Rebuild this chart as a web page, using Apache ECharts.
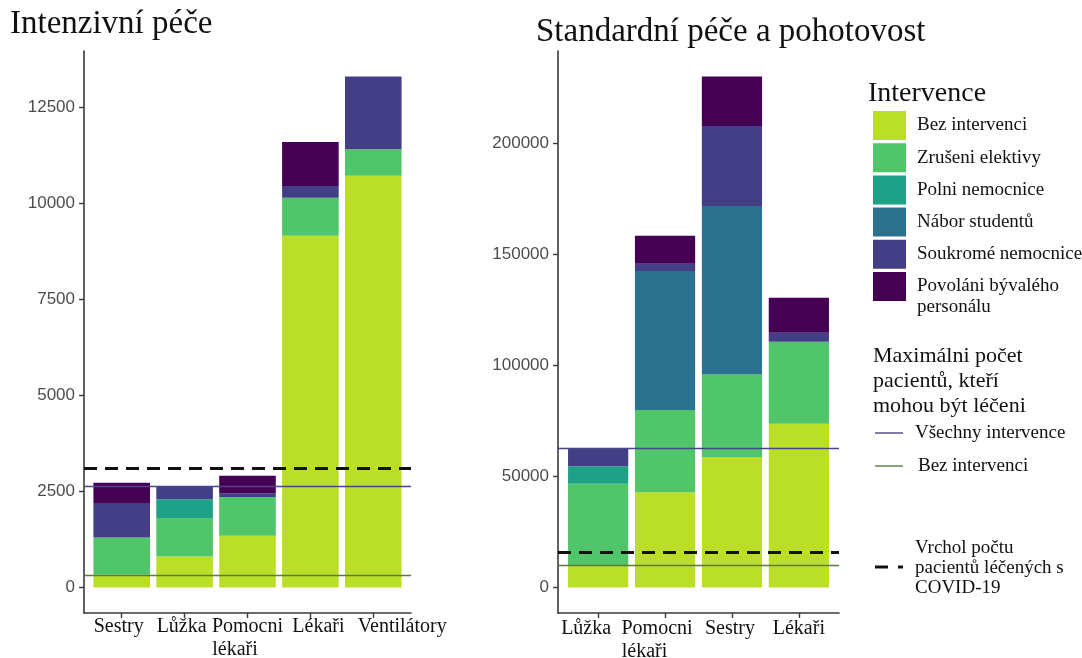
<!DOCTYPE html>
<html>
<head>
<meta charset="utf-8">
<script src="https://cdn.jsdelivr.net/npm/echarts@6/dist/echarts.min.js"></script>
<style>
  html, body { margin: 0; padding: 0; background: #ffffff; }
  #chart { width: 1082px; height: 658px; }
</style>
</head>
<body>
<div id="chart"></div>
<script>
// Intervention layers, stacked bottom to top
const interventions = [
  'Bez intervenci',
  'Zrušeni elektivy',
  'Polni nemocnice',
  'Nábor studentů',
  'Soukromé nemocnice',
  'Povoláni bývalého\npersonálu'
];
const interventionColors = ['#BBDF27', '#51C56A', '#1FA187', '#2C728E', '#433E85', '#440154'];

// Intenzivní péče
const icuCategories = ['Sestry', 'Lůžka', 'Pomocni\nlékaři', 'Lékaři', 'Ventilátory'];
const icuBez       = [330, 807, 1346, 9150, 10710];
const icuZruseni   = [972, 998, 1006, 990, 690];
const icuPolni     = [0, 487, 0, 0, 0];
const icuNabor     = [0, 0, 0, 0, 0];
const icuSoukrome  = [893, 346, 96, 300, 1890];
const icuPovolani  = [531, 0, 460, 1150, 0];
const icuCapacityAll  = 2638;
const icuCapacityNone = 330;
const icuPeak         = 3100;
const icuTicks = [0, 2500, 5000, 7500, 10000, 12500];

// Standardní péče a pohotovost
const stdCategories = ['Lůžka', 'Pomocni\nlékaři', 'Sestry', 'Lékaři'];
const stdBez       = [9900, 42800, 58700, 73700];
const stdZruseni   = [36800, 37070, 37100, 36800];
const stdPolni     = [7800, 0, 0, 0];
const stdNabor     = [0, 62480, 75800, 0];
const stdSoukrome  = [7970, 3290, 36050, 4050];
const stdPovolani  = [0, 12600, 22220, 15770];
const stdCapacityAll  = 62470;
const stdCapacityNone = 9900;
const stdPeak         = 15800;
const stdTicks = [0, 50000, 100000, 150000, 200000];

// Second legend texts
const capacityTitle = 'Maximálni počet\npacientů, kteří\nmohou být léčeni';
const capacityAllLabel = 'Všechny intervence';
const capacityNoneLabel = 'Bez intervenci';
const peakLabel = 'Vrchol počtu\npacientů léčených s\nCOVID-19';

const SERIF = '"Liberation Serif", "Times New Roman", serif';
const SANS = '"Liberation Sans", Arial, sans-serif';
const AXIS_COLOR = '#3a3a3a';
const LINE_ALL = '#48468a';
const LINE_NONE = '#5d7a3a';
const LABEL_FONT = 20;

const panels = [
  {
    title: 'Intenzivní péče', titleLeft: 10, titleTop: 8,
    categories: icuCategories,
    labelShift: [-3, -3, 0, 8, 29],   // horizontal nudge of each category label, px
    labelMargin: 2,
    layers: [icuBez, icuZruseni, icuPolni, icuNabor, icuSoukrome, icuPovolani],
    capAll: icuCapacityAll, capNone: icuCapacityNone, peak: icuPeak, ticks: icuTicks,
    grid: { left: 84, top: 51, width: 327, height: 562 }
  },
  {
    title: 'Standardní péče a pohotovost', titleLeft: 536, titleTop: 16,
    categories: stdCategories,
    labelShift: [-12, -8, -2, 0],
    labelMargin: 4,
    layers: [stdBez, stdZruseni, stdPolni, stdNabor, stdSoukrome, stdPovolani],
    capAll: stdCapacityAll, capNone: stdCapacityNone, peak: stdPeak, ticks: stdTicks,
    grid: { left: 558, top: 51, width: 281, height: 562 }
  }
];

// text width helper, used to left-align the lines of two-line category names
const measureCtx = document.createElement('canvas').getContext('2d');
measureCtx.font = LABEL_FONT + 'px ' + SERIF;
const textWidth = s => measureCtx.measureText(s).width;
const padLine = (line, target) => {
  let out = line;
  while (textWidth(out + '\u00a0') <= target + 1) out += '\u00a0';
  return out;
};
const formatCategory = name => {
  const lines = name.split('\n');
  const w = Math.max(...lines.map(textWidth));
  return lines.map(l => '{c|' + padLine(l, w) + '}').join('\n');
};

const option = {
  animation: false,
  backgroundColor: '#ffffff',
  title: [],
  grid: [],
  xAxis: [],
  yAxis: [],
  series: [],
  graphic: []
};

panels.forEach((p, pi) => {
  const n = p.categories.length;
  const totals = p.categories.map((_, i) => p.layers.reduce((s, l) => s + l[i], 0));
  const top = Math.max(...totals);
  const slot = p.grid.width / (n + 0.2);

  option.title.push({
    text: p.title, left: p.titleLeft, top: p.titleTop, padding: 0,
    textStyle: { fontFamily: SERIF, fontSize: 33, fontWeight: 'normal', color: '#111' }
  });
  option.grid.push(Object.assign({ containLabel: false, outerBoundsMode: 'none' }, p.grid));

  const ticks = p.categories.map((_, i) => i + 1);
  // label anchors: tick position plus the pixel nudge expressed in axis units
  const labelAt = ticks.map((t, i) => t + p.labelShift[i] / slot);
  option.xAxis.push({
    type: 'value', gridIndex: pi, min: 0.4, max: n + 0.6,
    splitLine: { show: false },
    axisLine: { show: true, onZero: false, lineStyle: { color: AXIS_COLOR, width: 1.6 } },
    axisTick: { show: true, length: 5, customValues: ticks, lineStyle: { color: AXIS_COLOR, width: 1.4 } },
    axisLabel: {
      customValues: labelAt, margin: p.labelMargin, hideOverlap: false,
      fontFamily: SERIF, fontSize: LABEL_FONT, color: '#111', lineHeight: 23,
      formatter: v => {
        const c = p.categories[Math.round(v) - 1];
        return c === undefined ? '' : formatCategory(c);
      },
      rich: {
        c: { fontFamily: SERIF, fontSize: LABEL_FONT, color: '#111', lineHeight: 23, width: 4, align: 'center' }
      }
    }
  });
  option.yAxis.push({
    type: 'value', gridIndex: pi, min: -0.05 * top, max: 1.05 * top,
    splitLine: { show: false },
    axisLine: { show: true, onZero: false, lineStyle: { color: AXIS_COLOR, width: 1.6 } },
    axisTick: { show: true, length: 5, customValues: p.ticks, lineStyle: { color: AXIS_COLOR, width: 1.4 } },
    axisLabel: {
      customValues: p.ticks, margin: 9,
      fontFamily: SANS, fontSize: 17, color: '#4d4d4d',
      formatter: v => String(v)
    }
  });

  p.layers.forEach((layer, li) => {
    const s = {
      type: 'bar',
      name: interventions[li],
      xAxisIndex: pi, yAxisIndex: pi,
      stack: 'panel' + pi,
      barWidth: slot * 0.9,
      encode: { x: 1, y: 0 },
      itemStyle: { color: interventionColors[li] },
      data: layer.map((v, i) => [v, i + 1])
    };
    if (li === p.layers.length - 1) {
      s.markLine = {
        silent: true,
        symbol: ['none', 'none'],
        label: { show: false },
        data: [
          { yAxis: p.capAll, lineStyle: { color: LINE_ALL, width: 1.4, type: 'solid' } },
          { yAxis: p.capNone, lineStyle: { color: LINE_NONE, width: 1.4, type: 'solid' } },
          { yAxis: p.peak, lineStyle: { color: '#111', width: 3, type: [13, 8] } }
        ]
      };
    }
    option.series.push(s);
  });
});

// Legend: interventions
option.graphic.push({
  type: 'text', left: 868, top: 80,
  style: { text: 'Intervence', fontFamily: SERIF, fontSize: 28, fill: '#111' }
});
interventions.forEach((name, i) => {
  const y0 = 111 + i * 32.2;
  option.graphic.push({
    type: 'rect', shape: { x: 873, y: y0, width: 33, height: 29 },
    style: { fill: interventionColors[i] }
  });
  option.graphic.push({
    type: 'text', x: 917, y: y0 + 14.5 - 10.5,
    style: { text: name, fontFamily: SERIF, fontSize: 19, lineHeight: 21, fill: '#111', verticalAlign: 'top' }
  });
});

// Legend: capacity lines and peak
option.graphic.push({
  type: 'text', x: 873, y: 344,
  style: { text: capacityTitle, fontFamily: SERIF, fontSize: 22, lineHeight: 25, fill: '#111', verticalAlign: 'top' }
});
option.graphic.push({
  type: 'line', shape: { x1: 875, y1: 433, x2: 903, y2: 433 },
  style: { stroke: LINE_ALL, lineWidth: 1.4 }
});
option.graphic.push({
  type: 'text', x: 915, y: 433,
  style: { text: capacityAllLabel, fontFamily: SERIF, fontSize: 19, fill: '#111', verticalAlign: 'middle' }
});
option.graphic.push({
  type: 'line', shape: { x1: 875, y1: 466, x2: 903, y2: 466 },
  style: { stroke: LINE_NONE, lineWidth: 1.4 }
});
option.graphic.push({
  type: 'text', x: 918, y: 466,
  style: { text: capacityNoneLabel, fontFamily: SERIF, fontSize: 19, fill: '#111', verticalAlign: 'middle' }
});
option.graphic.push({
  type: 'line', shape: { x1: 875, y1: 567, x2: 888, y2: 567 },
  style: { stroke: '#111', lineWidth: 3 }
});
option.graphic.push({
  type: 'line', shape: { x1: 898, y1: 567, x2: 903, y2: 567 },
  style: { stroke: '#111', lineWidth: 3 }
});
option.graphic.push({
  type: 'text', x: 915, y: 538,
  style: { text: peakLabel, fontFamily: SERIF, fontSize: 19, lineHeight: 20, fill: '#111', verticalAlign: 'top' }
});

const chart = echarts.init(document.getElementById('chart'), null, { renderer: 'canvas' });
chart.setOption(option);
</script>
</body>
</html>
